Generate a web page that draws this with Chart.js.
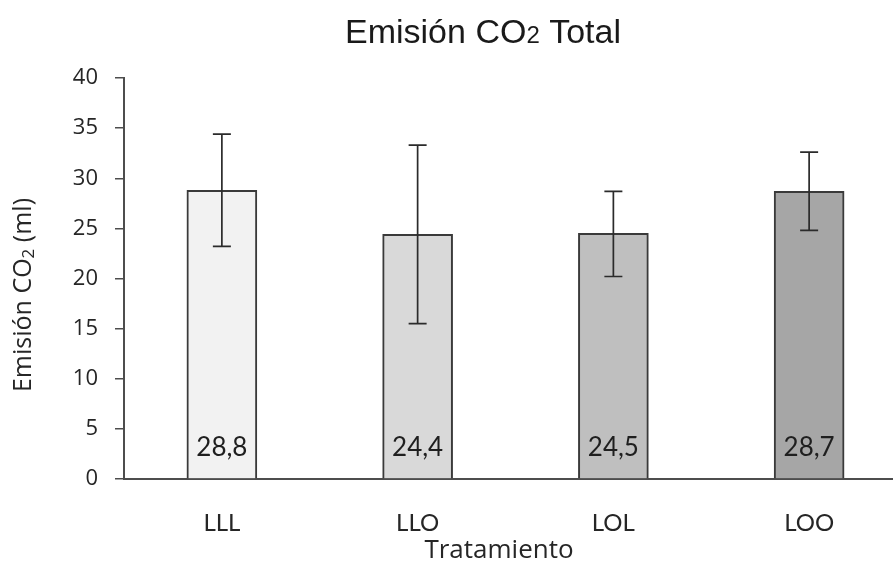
<!DOCTYPE html>
<html lang="es">
<head>
    <meta charset="UTF-8">
    <title>Emisión CO2 Total</title>
    <script src="https://cdn.jsdelivr.net/npm/chart.js"></script>
    <style>
        body {
            margin: 0;
            background: #ffffff;
        }

        .chart-wrap {
            width: 893px;
            height: 563px;
            overflow: hidden; /* plot runs a little past the right edge, like the original */
        }
    </style>
</head>
<body>
    <div class="chart-wrap">
        <canvas id="co2Chart" width="907" height="563"></canvas>
    </div>

    <script>
        // values
        const categories = ['LLL', 'LLO', 'LOL', 'LOO'];
        const means = [28.8, 24.4, 24.5, 28.7];
        const errLow = [23.2, 15.5, 20.2, 24.8];
        const errHigh = [34.4, 33.3, 28.7, 32.6];
        const valueLabels = ['28,8', '24,4', '24,5', '28,7'];
        const yTicks = [0, 5, 10, 15, 20, 25, 30, 35, 40];

        const barFill = ['#f2f2f2', '#d9d9d9', '#bfbfbf', '#a6a6a6'];

        // draws text made of pieces with their own size / vertical shift (for the "2" in CO2)
        function drawPieces(ctx, pieces, cx, y) {
            let total = 0;
            pieces.forEach(p => {
                ctx.font = p.font;
                p.w = ctx.measureText(p.text).width;
                total += p.w;
            });
            let x = cx - total / 2;
            pieces.forEach(p => {
                ctx.font = p.font;
                ctx.fillText(p.text, x, y + (p.dy || 0));
                x += p.w;
            });
        }

        const extrasPlugin = {
            id: 'extras',
            afterDatasetsDraw(chart) {
                const ctx = chart.ctx;
                const xs = chart.scales.x;
                const ys = chart.scales.y;
                ctx.save();

                // error bars
                ctx.strokeStyle = '#2b2b2b';
                ctx.lineWidth = 1.7;
                categories.forEach((c, i) => {
                    const x = xs.getPixelForValue(i);
                    const top = ys.getPixelForValue(errHigh[i]);
                    const bot = ys.getPixelForValue(errLow[i]);
                    ctx.beginPath();
                    ctx.moveTo(x, top);
                    ctx.lineTo(x, bot);
                    ctx.moveTo(x - 9, top);
                    ctx.lineTo(x + 9, top);
                    ctx.moveTo(x - 9, bot);
                    ctx.lineTo(x + 9, bot);
                    ctx.stroke();
                });

                // value labels at the foot of each bar
                ctx.fillStyle = '#1f1f1f';
                ctx.font = '26px Lato';
                ctx.textAlign = 'center';
                ctx.textBaseline = 'middle';
                categories.forEach((c, i) => {
                    const x = xs.getPixelForValue(i);
                    ctx.fillText(valueLabels[i], x, ys.getPixelForValue(0) - 31);
                });

                // titles
                ctx.textAlign = 'left';
                ctx.textBaseline = 'alphabetic';
                ctx.fillStyle = '#1a1a1a';
                drawPieces(ctx, [
                    { text: 'Emisión CO', font: '34px "Liberation Sans"' },
                    { text: '2', font: '24px "Liberation Sans"' },
                    { text: ' Total', font: '34px "Liberation Sans"' }
                ], 483, 43);

                ctx.fillStyle = '#262626';
                drawPieces(ctx, [
                    { text: 'Tratamiento', font: '26px "Open Sans"' }
                ], 499, 558);

                ctx.translate(31, 295);
                ctx.rotate(-Math.PI / 2);
                drawPieces(ctx, [
                    { text: 'Emisión CO', font: '25px "Open Sans"' },
                    { text: '2', font: '17px "Open Sans"', dy: 3 },
                    { text: ' (ml)', font: '25px "Open Sans"' }
                ], 0, 0);

                ctx.restore();
            }
        };

        const ctx = document.getElementById('co2Chart').getContext('2d');
        new Chart(ctx, {
            type: 'bar',
            data: {
                labels: categories,
                datasets: [{
                    data: means,
                    backgroundColor: barFill,
                    borderColor: '#3a3a3a',
                    borderWidth: 2,
                    barThickness: 70
                }]
            },
            options: {
                responsive: false,
                animation: false,
                devicePixelRatio: 1,
                layout: {
                    padding: { top: 78, right: 0, bottom: 0, left: 0 }
                },
                plugins: {
                    legend: { display: false },
                    title: { display: false },
                    tooltip: { enabled: false }
                },
                scales: {
                    x: {
                        grid: { display: false },
                        border: { display: true, color: '#4d4d4d', width: 2 },
                        ticks: {
                            color: '#262626',
                            font: { family: 'Lato', size: 24 },
                            padding: 22
                        },
                        afterFit(scale) {
                            scale.height = 84;
                        }
                    },
                    y: {
                        min: 0,
                        max: 40,
                        afterBuildTicks(scale) {
                            scale.ticks = yTicks.map(v => ({ value: v }));
                        },
                        grid: {
                            drawOnChartArea: false,
                            drawTicks: true,
                            tickLength: 9,
                            color: '#4d4d4d',
                            lineWidth: 1.5
                        },
                        border: { display: true, color: '#4d4d4d', width: 2 },
                        ticks: {
                            color: '#262626',
                            font: { family: 'Open Sans', size: 22 },
                            padding: 17
                        },
                        afterFit(scale) {
                            scale.width = 124;
                        }
                    }
                }
            },
            plugins: [extrasPlugin]
        });
    </script>
</body>
</html>
